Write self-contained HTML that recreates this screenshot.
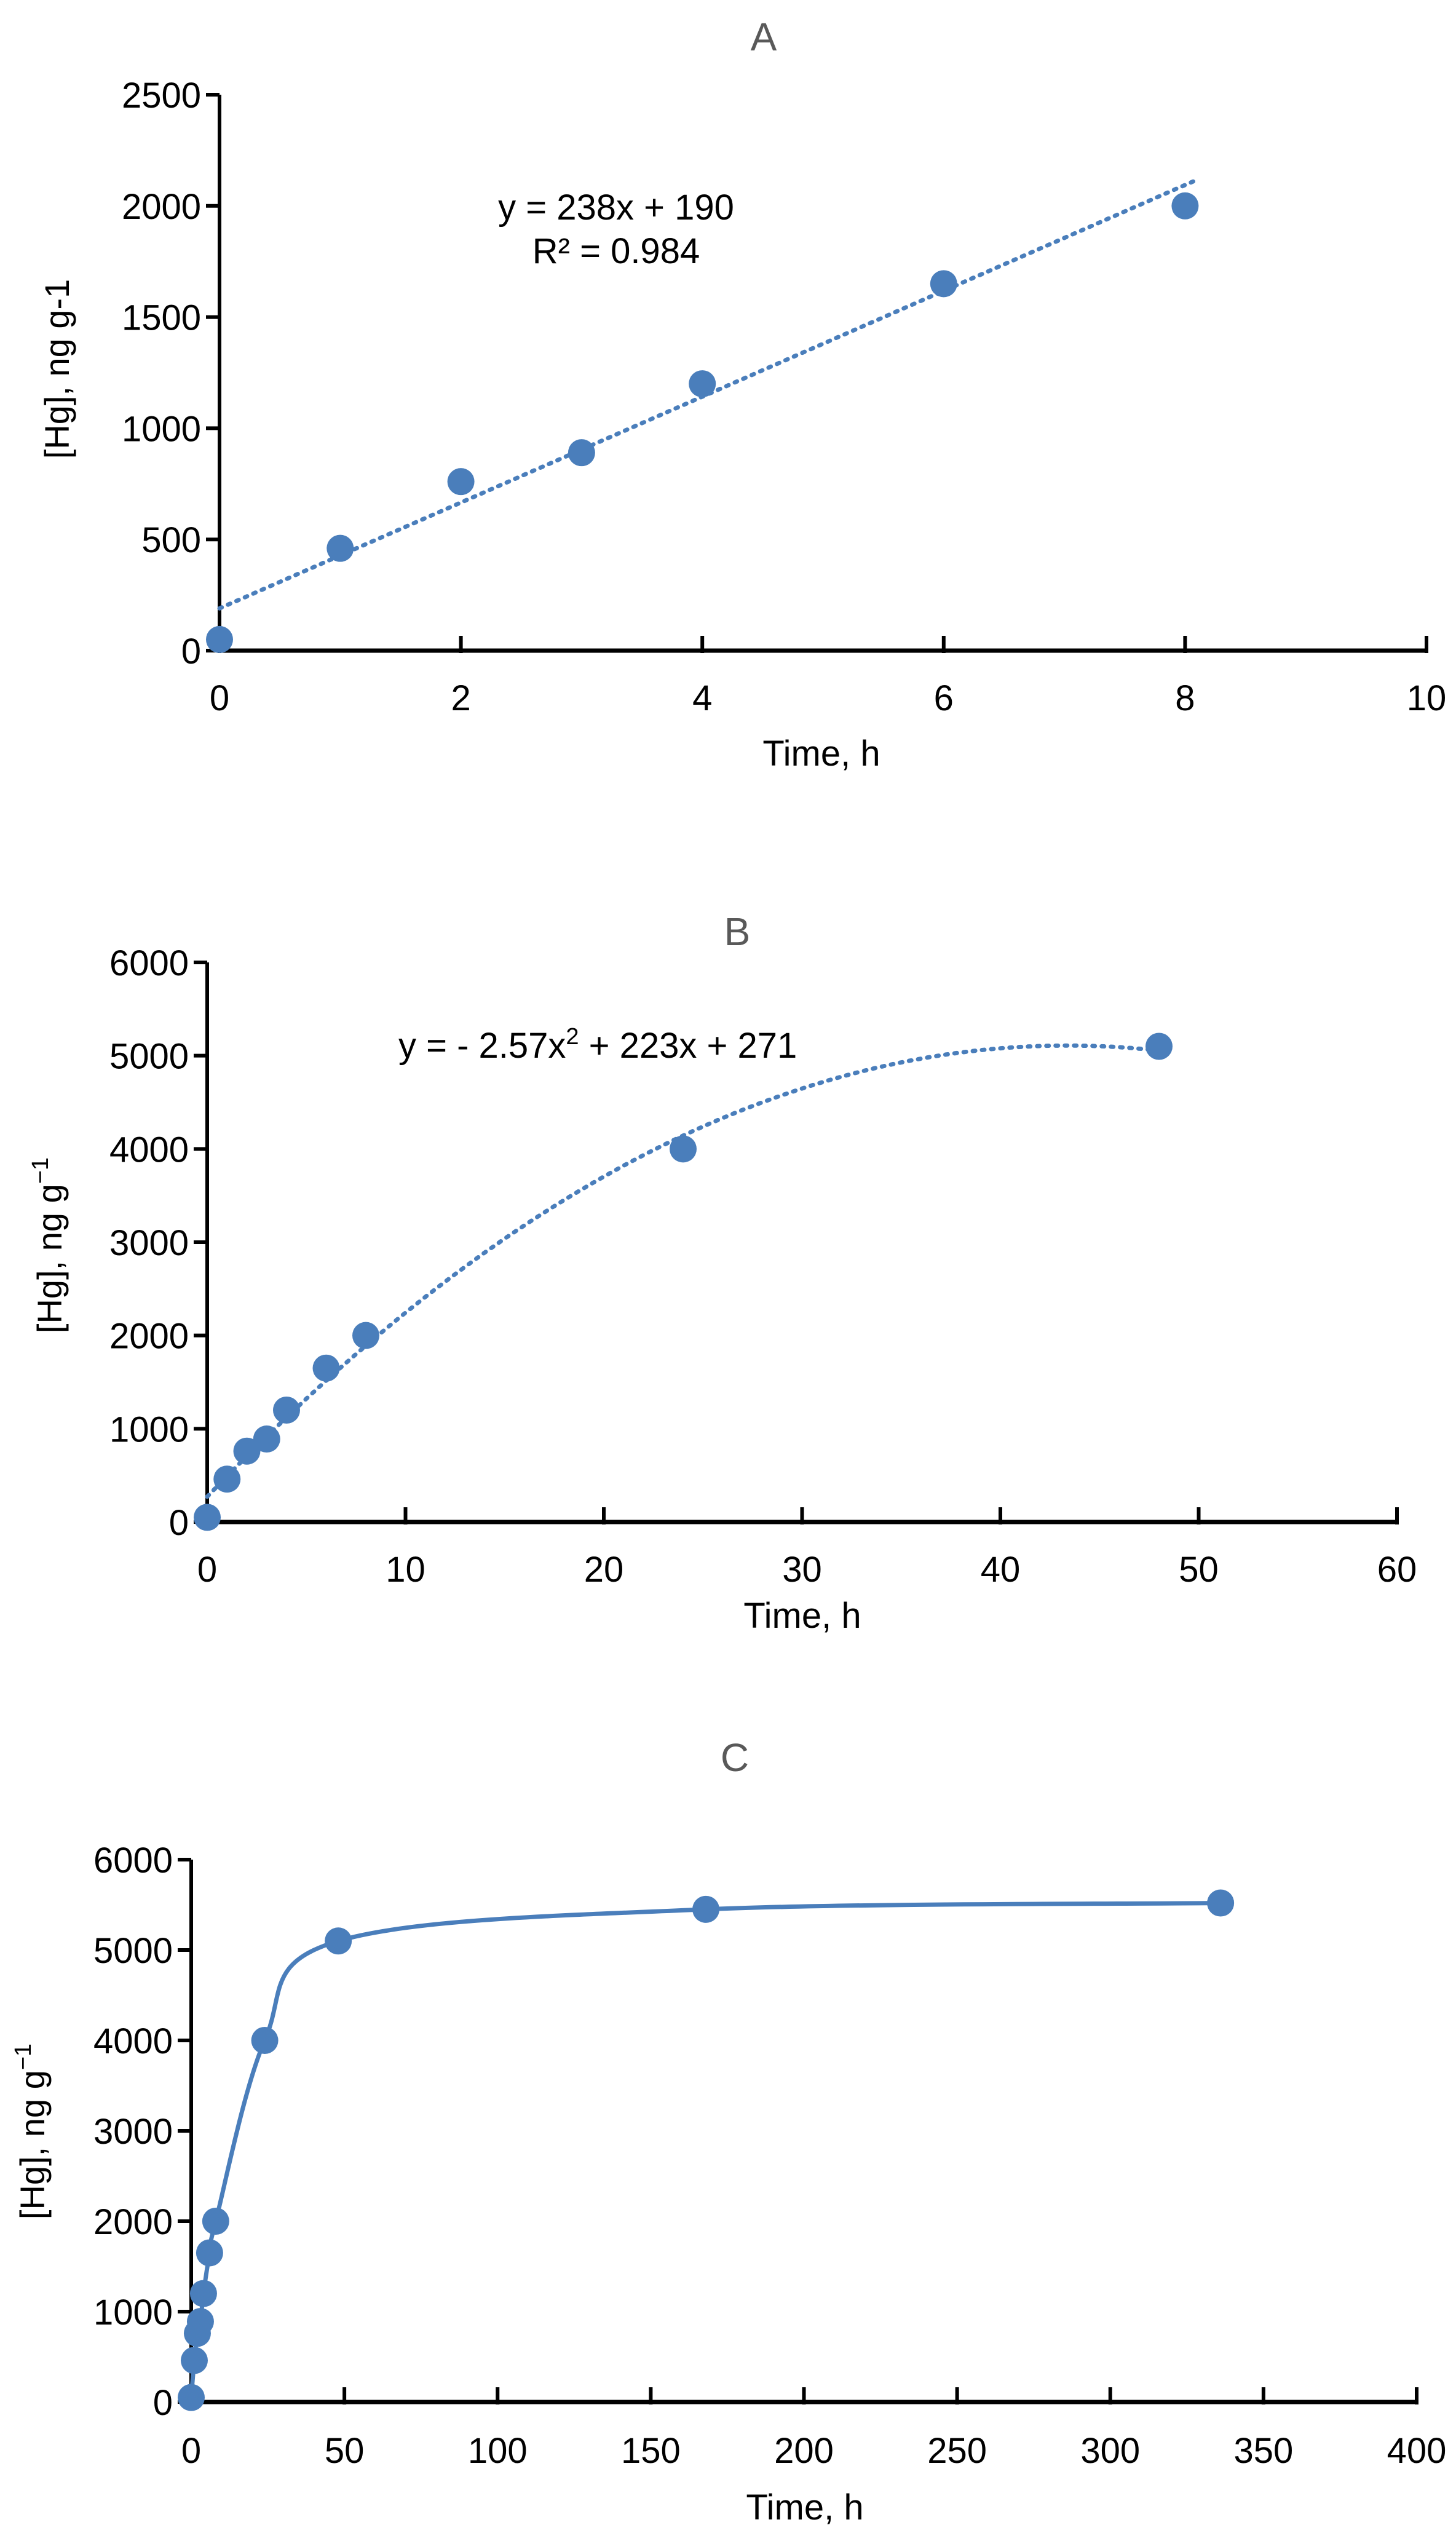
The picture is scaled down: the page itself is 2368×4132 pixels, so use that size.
<!DOCTYPE html>
<html><head><meta charset="utf-8"><style>
html,body{margin:0;padding:0;background:#fff}
svg{display:block}
text{font-family:"Liberation Sans",Arial,sans-serif;fill:#000}
</style></head><body>
<svg id="root" width="2368" height="4132" viewBox="0 0 2368 4132" xmlns="http://www.w3.org/2000/svg"></svg>
<script>
const timesAB = [0,1,2,3,4,6,8];
const hgA = [50,460,760,890,1200,1650,2000];
const timesB = [0,1,2,3,4,6,8,24,48];
const hgB = [50,460,760,890,1200,1650,2000,4000,5100];
const timesC = [0,1,2,3,4,6,8,24,48,168,336];
const hgC = [50,460,760,890,1200,1650,2000,4000,5100,5450,5520];
const ticksXA = [0,2,4,6,8,10];
const ticksYA = [0,500,1000,1500,2000,2500];
const ticksXB = [0,10,20,30,40,50,60];
const ticksYB = [0,1000,2000,3000,4000,5000,6000];
const ticksXC = [0,50,100,150,200,250,300,350,400];
const ticksYC = [0,1000,2000,3000,4000,5000,6000];
const fitA = [238,190];
const fitB = [-2.57,223,271];

const NS="http://www.w3.org/2000/svg";
const root=document.getElementById('root');
const BLUE="#4a7ebb";
function el(tag,attrs,parent,txt){const e=document.createElementNS(NS,tag);for(const k in attrs)e.setAttribute(k,attrs[k]);if(txt!==undefined)e.textContent=txt;(parent||root).appendChild(e);return e;}

function panel(cfg){
  const g=el('g',{});
  
  
  const sx=v=>cfg.x0+(v-cfg.xmin)/(cfg.xmax-cfg.xmin)*(cfg.x1-cfg.x0);
  const sy=v=>cfg.y0-(v-cfg.ymin)/(cfg.ymax-cfg.ymin)*(cfg.y0-cfg.y1);
  const t=el('text',{x:cfg.tx,y:cfg.ty,'font-size':64,'text-anchor':'middle'},g,cfg.title);
  
  
  t.style.fill='#595959';
  const ya=el('line',{x1:cfg.x0,y1:cfg.y1,x2:cfg.x0,y2:cfg.y0+3,stroke:'#000','stroke-width':6},g);
  
  
  const xa=el('line',{x1:cfg.x0-3,y1:cfg.y0,x2:cfg.x1,y2:cfg.y0,stroke:'#000','stroke-width':7},g);
  
  
  cfg.ticksY.forEach(v=>{
    const y=sy(v);
    el('line',{x1:cfg.x0-22,y1:y,x2:cfg.x0,y2:y,stroke:'#000','stroke-width':6},g);
    const tl=el('text',{x:cfg.x0-30,y:y+21,'font-size':58,'text-anchor':'end'},g,String(v));
    
    
  });
  cfg.ticksX.forEach(v=>{
    const x=sx(v);
    el('line',{x1:x,y1:cfg.y0-24,x2:x,y2:cfg.y0+4,stroke:'#000','stroke-width':6},g);
    const tl=el('text',{x:x,y:cfg.xly,'font-size':58,'text-anchor':'middle'},g,String(v));
    
    
  });
  const xt=el('text',{x:cfg.xtx,y:cfg.xty,'font-size':58,'text-anchor':'middle'},g,'Time, h');
  
  
  const ytl=el('text',{x:0,y:0,'font-size':56,'text-anchor':'middle',transform:`translate(${cfg.ylx},${cfg.yly}) rotate(-90)`},g);
  
  
  if(cfg.sup){ytl.textContent='[Hg],  ng g';el('tspan',{dy:-22,'font-size':38},ytl,'−1');}
  else ytl.textContent='[Hg],  ng g-1';
  if(cfg.fitFn){
    let d='';const n=200;
    for(let i=0;i<=n;i++){const xv=cfg.fitFrom+(cfg.fitTo-cfg.fitFrom)*i/n;d+=(i?'L':'M')+sx(xv).toFixed(1)+','+sy(cfg.fitFn(xv)).toFixed(1);}
    const p=el('path',{d:d,fill:'none',stroke:BLUE,'stroke-width':7,'stroke-dasharray':'4 11','stroke-linecap':'round'},g);
    
    
  }
  if(cfg.smooth){
    const pts=cfg.xs.map((v,i)=>[sx(v),sy(cfg.ys[i])]);
    let d='M'+pts[0][0]+','+pts[0][1];
    for(let i=0;i<pts.length-1;i++){
      const p0=pts[Math.max(0,i-1)],p1=pts[i],p2=pts[i+1],p3=pts[Math.min(pts.length-1,i+2)];
      const k=1/6;
      d+=`C${p1[0]+(p2[0]-p0[0])*k},${p1[1]+(p2[1]-p0[1])*k} ${p2[0]-(p3[0]-p1[0])*k},${p2[1]-(p3[1]-p1[1])*k} ${p2[0]},${p2[1]}`;
    }
    const p=el('path',{d:d,fill:'none',stroke:BLUE,'stroke-width':7},g);
    
    
  }
  cfg.xs.forEach((v,i)=>{
    const c=el('circle',{cx:sx(v),cy:sy(cfg.ys[i]),r:22,fill:BLUE},g);
    
    
  });
  return {g,sx,sy};
}

const A=panel({id:'a',title:'A',tx:1242,ty:82,x0:357,x1:2320,y0:1058,y1:154,xmin:0,xmax:10,ymin:0,ymax:2500,
  ticksX:ticksXA,ticksY:ticksYA,xly:1155,xtx:1336,xty:1245,ylx:112,yly:600,sup:false,
  xs:timesAB,ys:hgA,fitFn:x=>fitA[0]*x+fitA[1],fitFrom:0,fitTo:8.1});
const eq1=el('text',{x:1002,y:357,'font-size':58,'text-anchor':'middle'},A.g,'y = 238x + 190');


const eq2=el('text',{x:1002,y:428,'font-size':58,'text-anchor':'middle'},A.g,'R² = 0.984');



const B=panel({id:'b',title:'B',tx:1199,ty:1537,x0:337,x1:2272,y0:2475,y1:1565,xmin:0,xmax:60,ymin:0,ymax:6000,
  ticksX:ticksXB,ticksY:ticksYB,xly:2572,xtx:1305,xty:2647,ylx:100,yly:2025,sup:true,
  xs:timesB,ys:hgB,fitFn:x=>fitB[0]*x*x+fitB[1]*x+fitB[2],fitFrom:0,fitTo:48});
const eqB=el('text',{x:648,y:1720,'font-size':58},B.g);


eqB.textContent='y = - 2.57x';
el('tspan',{dy:-22,'font-size':38},eqB,'2');
el('tspan',{dy:22},eqB,' + 223x + 271');

panel({id:'c',title:'C',tx:1195,ty:2880,x0:311,x1:2304,y0:3906,y1:3024,xmin:0,xmax:400,ymin:0,ymax:6000,
  ticksX:ticksXC,ticksY:ticksYC,xly:4005,xtx:1309,xty:4097,ylx:72,yly:3466,sup:true,
  xs:timesC,ys:hgC,smooth:true});
</script>
</body></html>
